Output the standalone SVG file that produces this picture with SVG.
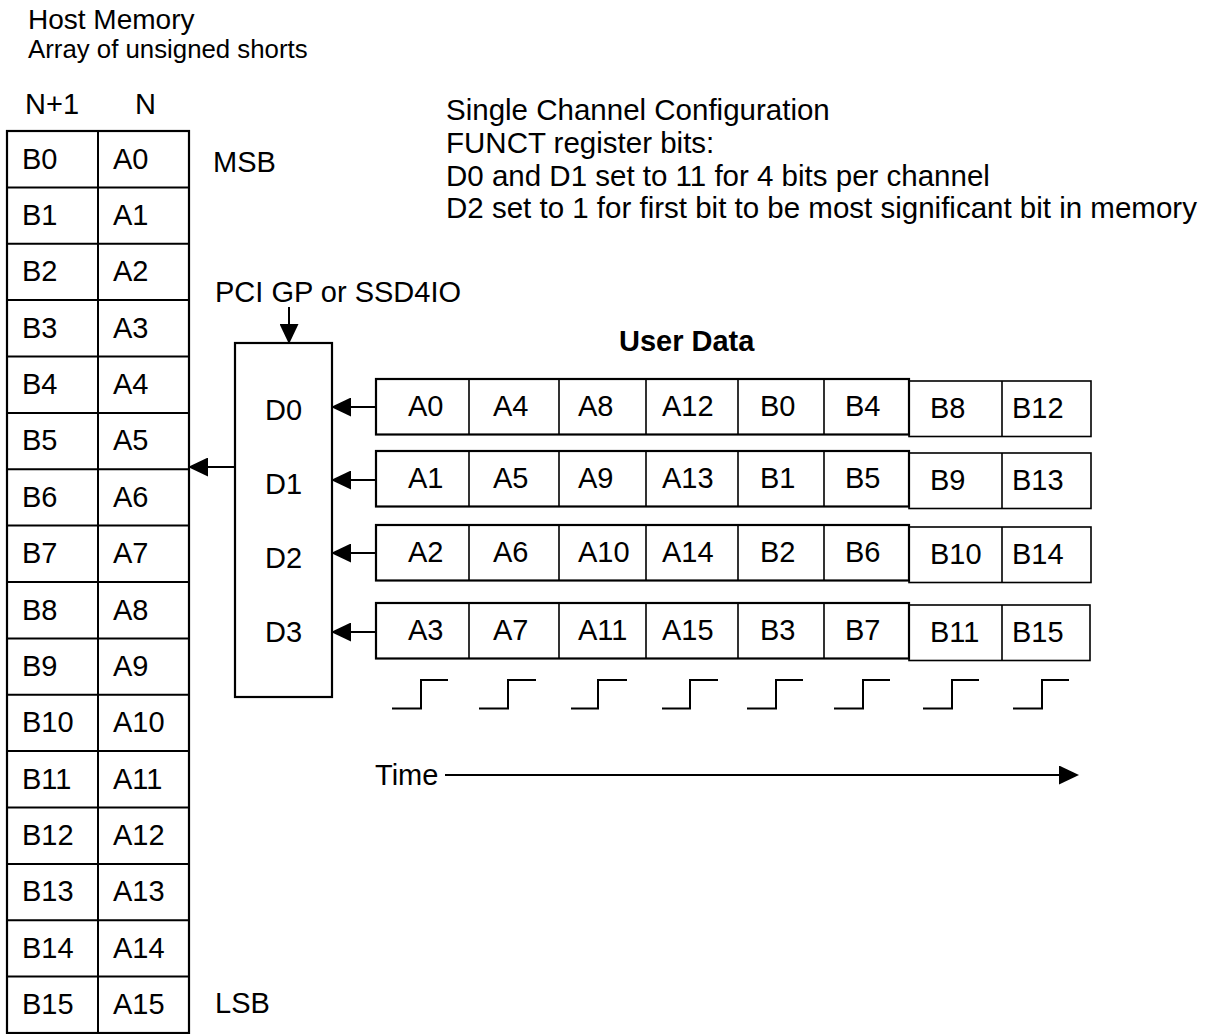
<svg xmlns="http://www.w3.org/2000/svg" width="1210" height="1034" viewBox="0 0 1210 1034">
<style>
text{font-family:"Liberation Sans",Arial,sans-serif;font-size:29px;fill:#000}
.t1{font-size:28px}
.t2{font-size:25.8px}
.cfg{font-size:29.5px}
.b{font-weight:bold}
.box{fill:#fff;stroke:#000;stroke-width:2.2}
.thin{fill:none;stroke:#000;stroke-width:1.6}
.ln{fill:none;stroke:#000;stroke-width:2}
</style>
<defs>
<marker id="ah" viewBox="0 0 20 19" refX="18" refY="9.5" markerWidth="20" markerHeight="19" markerUnits="userSpaceOnUse" orient="auto"><path d="M0,0 L20,9.5 L0,19 z" fill="#000"/></marker>
</defs>
<rect width="1210" height="1034" fill="#fff"/>
<g id="titles">
<text class="t1" x="28" y="29">Host Memory</text>
<text class="t2" x="28" y="58">Array of unsigned shorts</text>
<text x="25" y="114">N+1</text>
<text x="135" y="114">N</text>
<text x="213" y="172">MSB</text>
<text x="215" y="1013">LSB</text>
<text class="cfg" x="446" y="120">Single Channel Configuration</text>
<text class="cfg" x="446" y="153">FUNCT register bits:</text>
<text class="cfg" x="446" y="186">D0 and D1 set to 11 for 4 bits per channel</text>
<text class="cfg" x="446" y="218">D2 set to 1 for first bit to be most significant bit in memory</text>
<text x="215" y="302">PCI GP or SSD4IO</text>
<text class="b" x="619" y="351">User Data</text>
<text x="375" y="785">Time</text>
</g>
<g id="host-memory">
<rect class="box" x="7" y="131" width="182" height="902"/>
<path class="ln" d="M98,131V1033 M7,187.4H189 M7,243.8H189 M7,300.1H189 M7,356.5H189 M7,412.9H189 M7,469.3H189 M7,525.6H189 M7,582H189 M7,638.4H189 M7,694.8H189 M7,751.1H189 M7,807.5H189 M7,863.9H189 M7,920.3H189 M7,976.6H189"/>
<text x="22" y="168.5">B0</text><text x="113" y="168.5">A0</text>
<text x="22" y="224.9">B1</text><text x="113" y="224.9">A1</text>
<text x="22" y="281.3">B2</text><text x="113" y="281.3">A2</text>
<text x="22" y="337.6">B3</text><text x="113" y="337.6">A3</text>
<text x="22" y="394">B4</text><text x="113" y="394">A4</text>
<text x="22" y="450.4">B5</text><text x="113" y="450.4">A5</text>
<text x="22" y="506.8">B6</text><text x="113" y="506.8">A6</text>
<text x="22" y="563.1">B7</text><text x="113" y="563.1">A7</text>
<text x="22" y="619.5">B8</text><text x="113" y="619.5">A8</text>
<text x="22" y="675.9">B9</text><text x="113" y="675.9">A9</text>
<text x="22" y="732.3">B10</text><text x="113" y="732.3">A10</text>
<text x="22" y="788.6">B11</text><text x="113" y="788.6">A11</text>
<text x="22" y="845">B12</text><text x="113" y="845">A12</text>
<text x="22" y="901.4">B13</text><text x="113" y="901.4">A13</text>
<text x="22" y="957.8">B14</text><text x="113" y="957.8">A14</text>
<text x="22" y="1014.1">B15</text><text x="113" y="1014.1">A15</text>
</g>
<g id="io-block">
<rect class="box" x="235" y="343" width="97" height="354"/>
<text x="265" y="420">D0</text>
<text x="265" y="494">D1</text>
<text x="265" y="568">D2</text>
<text x="265" y="642">D3</text>
</g>
<g id="row-d0">
<rect class="box" x="376" y="379" width="533" height="55.5"/>
<rect class="thin" x="909" y="381" width="182" height="55.5"/>
<path class="thin" d="M469,379V434.5 M559,379V434.5 M646,379V434.5 M738,379V434.5 M824,379V434.5 M1002,381V436.5"/>
<text x="408" y="415.5">A0</text><text x="493" y="415.5">A4</text><text x="578" y="415.5">A8</text><text x="662" y="415.5">A12</text><text x="760" y="415.5">B0</text><text x="845" y="415.5">B4</text><text x="930" y="417.5">B8</text><text x="1012" y="417.5">B12</text>
</g>
<g id="row-d1">
<rect class="box" x="376" y="451" width="533" height="55.5"/>
<rect class="thin" x="909" y="453" width="182" height="55.5"/>
<path class="thin" d="M469,451V506.5 M559,451V506.5 M646,451V506.5 M738,451V506.5 M824,451V506.5 M1002,453V508.5"/>
<text x="408" y="487.5">A1</text><text x="493" y="487.5">A5</text><text x="578" y="487.5">A9</text><text x="662" y="487.5">A13</text><text x="760" y="487.5">B1</text><text x="845" y="487.5">B5</text><text x="930" y="489.5">B9</text><text x="1012" y="489.5">B13</text>
</g>
<g id="row-d2">
<rect class="box" x="376" y="525" width="533" height="55.5"/>
<rect class="thin" x="909" y="527" width="182" height="55.5"/>
<path class="thin" d="M469,525V580.5 M559,525V580.5 M646,525V580.5 M738,525V580.5 M824,525V580.5 M1002,527V582.5"/>
<text x="408" y="561.5">A2</text><text x="493" y="561.5">A6</text><text x="578" y="561.5">A10</text><text x="662" y="561.5">A14</text><text x="760" y="561.5">B2</text><text x="845" y="561.5">B6</text><text x="930" y="563.5">B10</text><text x="1012" y="563.5">B14</text>
</g>
<g id="row-d3">
<rect class="box" x="376" y="603" width="533" height="55.5"/>
<rect class="thin" x="909" y="605" width="181" height="55.5"/>
<path class="thin" d="M469,603V658.5 M559,603V658.5 M646,603V658.5 M738,603V658.5 M824,603V658.5 M1002,605V660.5"/>
<text x="408" y="639.5">A3</text><text x="493" y="639.5">A7</text><text x="578" y="639.5">A11</text><text x="662" y="639.5">A15</text><text x="760" y="639.5">B3</text><text x="845" y="639.5">B7</text><text x="930" y="641.5">B11</text><text x="1012" y="641.5">B15</text>
</g>
<g id="clock">
<path class="ln" d="M392,708.5H421V680H448 M479,708.5H508V680H536 M571,708.5H598V680H627 M662,708.5H690V680H718 M747,708.5H776V680H803 M834,708.5H863V680H890 M923,708.5H952V680H979 M1013,708.5H1042V680H1069"/>
</g>
<g id="connectors">
<line class="ln" x1="289" y1="307" x2="289" y2="342" marker-end="url(#ah)"/>
<line class="ln" x1="235" y1="467" x2="190" y2="467" marker-end="url(#ah)"/>
<line class="ln" x1="375" y1="407" x2="333" y2="407" marker-end="url(#ah)"/>
<line class="ln" x1="375" y1="480" x2="333" y2="480" marker-end="url(#ah)"/>
<line class="ln" x1="375" y1="553" x2="333" y2="553" marker-end="url(#ah)"/>
<line class="ln" x1="375" y1="632" x2="333" y2="632" marker-end="url(#ah)"/>
<line class="ln" x1="445" y1="775" x2="1077" y2="775" marker-end="url(#ah)"/>
</g>
</svg>
